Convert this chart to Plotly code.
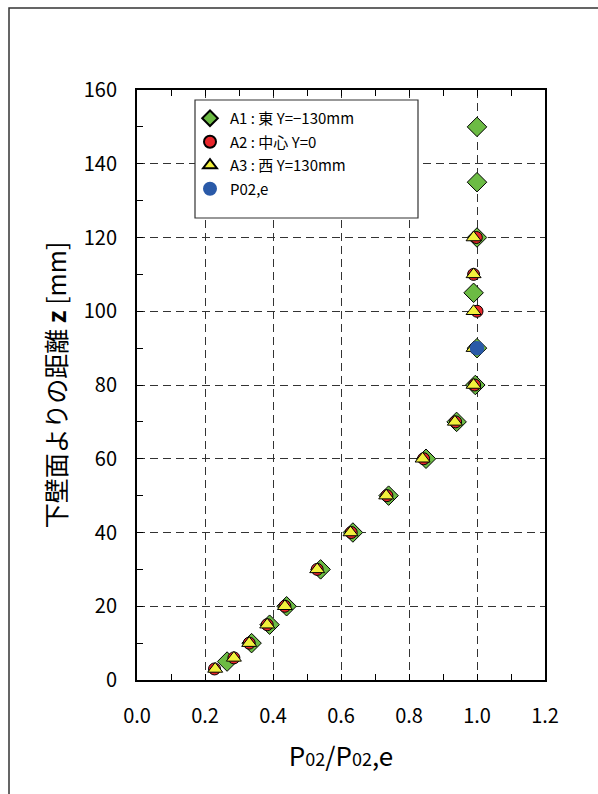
import plotly.graph_objects as go

# ---- data ----
a1_z = [5, 10, 15, 20, 30, 40, 50, 60, 70, 80, 90, 105, 120, 135, 150]
a1_x = [0.265, 0.337, 0.39, 0.44, 0.54, 0.635, 0.74, 0.85, 0.94, 0.995, 1.0, 0.99, 1.0, 1.0, 1.0]

a2_z = [3, 6, 10, 15, 20, 30, 40, 50, 60, 70, 80, 90, 100, 110, 120]
a2_x = [0.228, 0.285, 0.33, 0.383, 0.435, 0.53, 0.63, 0.735, 0.843, 0.937, 0.993, 0.995, 1.0, 0.99, 0.998]

a3_z = [3, 6, 10, 15, 20, 30, 40, 50, 60, 70, 80, 90, 100, 110, 120]
a3_x = [0.23, 0.285, 0.33, 0.383, 0.435, 0.53, 0.628, 0.733, 0.84, 0.935, 0.99, 0.99, 0.99, 0.99, 0.99]

pe_z = [90]
pe_x = [1.0]

names = ["A1 : 東 Y=−130mm", "A2 : 中心 Y=0", "A3 : 西 Y=130mm", "P02,e"]
x_ticks = [0, 0.2, 0.4, 0.6, 0.8, 1.0, 1.2]
x_ticktext = ["0.0", "0.2", "0.4", "0.6", "0.8", "1.0", "1.2"]

FONT = "Noto Sans CJK JP"

fig = go.Figure()
fig.add_trace(go.Scatter(x=a1_x, y=a1_z, mode="markers", name=names[0], legendgroup="a1",
                         marker=dict(symbol="diamond", size=15, color="#6cbb44",
                                     line=dict(color="black", width=1))))
fig.add_trace(go.Scatter(x=a2_x, y=a2_z, mode="markers", name=names[1], legendgroup="a2",
                         marker=dict(symbol="circle", size=12, color="#e8262b",
                                     line=dict(color="black", width=1))))
fig.add_trace(go.Scatter(x=a3_x, y=a3_z, mode="markers", name=names[2], legendgroup="a3",
                         marker=dict(symbol="triangle-up", size=13, color="#f2f03c",
                                     line=dict(color="black", width=1))))
fig.add_trace(go.Scatter(x=pe_x, y=pe_z, mode="markers", name=names[3], legendgroup="pe",
                         marker=dict(symbol="circle", size=13, color="#2a5aa8",
                                     line=dict(color="#2a5aa8", width=1.5))))

W, H = 598, 794
L, R, T, B = 137, 53, 90, 114
pw, ph = W - L - R, H - T - B


def px_x(p):
    return (p - L) / pw


def px_y(p):
    return 1 - (p - T) / ph


fig.update_layout(
    width=W, height=H,
    margin=dict(l=L, r=R, t=T, b=B),
    paper_bgcolor="white", plot_bgcolor="white",
    font=dict(family=FONT, color="black", size=16),
    showlegend=True,
    legend=dict(
        x=px_x(190), y=px_y(102), xanchor="left", yanchor="top",
        borderwidth=0, bgcolor="rgba(0,0,0,0)",
        font=dict(family=FONT, size=15), itemwidth=30,
        tracegroupgap=1, itemsizing="constant",
    ),
    xaxis=dict(
        range=[0, 1.2], tickvals=x_ticks, ticktext=x_ticktext,
        ticks="inside", ticklen=6, tickcolor="black",
        showline=True, linecolor="black", linewidth=2, mirror="ticks",
        showgrid=True, gridcolor="#333", griddash="8px,5px", gridwidth=1,
        zeroline=False,
        minor=dict(dtick=0.1, ticks="inside", ticklen=6, tickcolor="black", showgrid=False),
        tickfont=dict(size=20, family=FONT),
        ticklabelstandoff=17,
        title=dict(text="P<span style='font-size:18px'>02</span>/P<span style='font-size:18px'>02</span>,e",
                   font=dict(size=26, family=FONT), standoff=20),
    ),
    yaxis=dict(
        range=[0, 160], dtick=20,
        ticks="inside", ticklen=6, tickcolor="black",
        showline=True, linecolor="black", linewidth=2, mirror=True,
        showgrid=True, gridcolor="#333", griddash="8px,5px", gridwidth=1,
        zeroline=False,
        minor=dict(dtick=10, ticks="inside", ticklen=6, tickcolor="black", showgrid=False),
        tickfont=dict(size=20, family=FONT),
        ticklabelstandoff=14,
        title=dict(text="下壁面よりの距離 <b>z</b> [mm]", font=dict(size=25, family=FONT), standoff=10),
    ),
    shapes=[
        dict(type="rect", xref="paper", yref="paper",
             x0=px_x(9), x1=px_x(W + 20), y0=px_y(H + 20), y1=px_y(8),
             line=dict(color="#333", width=1.5), layer="below"),
        dict(type="rect", xref="paper", yref="paper",
             x0=px_x(195), x1=px_x(418), y0=px_y(218), y1=px_y(100),
             line=dict(color="#333", width=1.2), fillcolor="white", layer="above"),
    ],
)

fig.write_html("out.html")
